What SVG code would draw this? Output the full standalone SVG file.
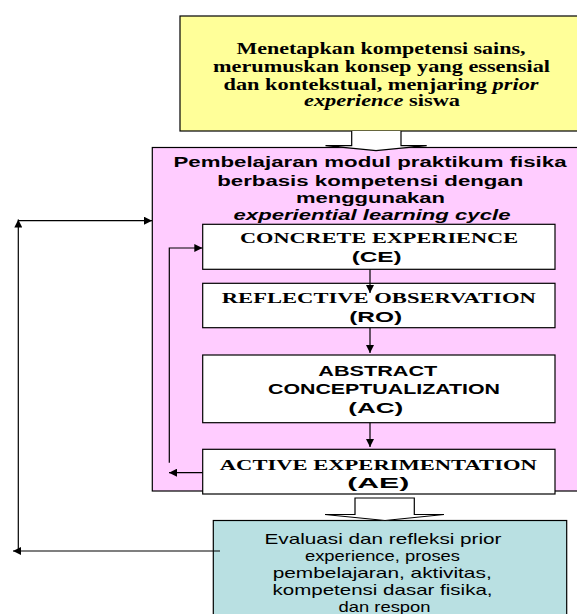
<svg xmlns="http://www.w3.org/2000/svg" width="577" height="614" viewBox="0 0 577 614">
<defs>
<marker id="ah" viewBox="0 0 10 10" refX="10" refY="5" markerUnits="userSpaceOnUse" markerWidth="9" markerHeight="8" orient="auto">
<path d="M0,0 L10,5 L0,10 z" fill="#000"/>
</marker>
</defs>
<style>
.box{stroke:#000;stroke-width:1.2}
.ln{fill:none;stroke:#000;stroke-width:1.2}
.blk{fill:#fff;stroke:#000;stroke-width:1.2;stroke-linejoin:miter}
.ser{font-family:"Liberation Serif","Times New Roman",serif;font-weight:bold;fill:#000}
.san{font-family:"Liberation Sans",Arial,sans-serif;fill:#000}
.b{font-weight:bold}
.i{font-style:italic}
</style>
<rect width="577" height="614" fill="#fff"/>

<g id="top">
<rect class="box" x="180" y="16" width="410" height="115" fill="#FFFF99" stroke="#333"/>
<g class="ser" font-size="16" text-anchor="middle">
<text x="381" y="54" textLength="289" lengthAdjust="spacingAndGlyphs">Menetapkan kompetensi sains,</text>
<text x="381.5" y="72" textLength="337" lengthAdjust="spacingAndGlyphs">merumuskan konsep yang essensial</text>
<text x="381" y="90" textLength="315" lengthAdjust="spacingAndGlyphs">dan kontekstual, menjaring <tspan class="i">prior</tspan></text>
<text x="382" y="106" textLength="156" lengthAdjust="spacingAndGlyphs"><tspan class="i">experience</tspan> siswa</text>
</g>
</g>

<g id="module">
<rect class="box" x="152.3" y="147.5" width="440" height="343.5" fill="#FFCCFF"/>
<g class="san b" font-size="14" text-anchor="middle">
<text x="370" y="167" textLength="393" lengthAdjust="spacingAndGlyphs">Pembelajaran modul praktikum fisika</text>
<text x="370.3" y="185.5" textLength="306" lengthAdjust="spacingAndGlyphs">berbasis kompetensi dengan</text>
<text x="370.5" y="203" textLength="149" lengthAdjust="spacingAndGlyphs">menggunakan</text>
<text class="i" x="372" y="220" textLength="277" lengthAdjust="spacingAndGlyphs">experiential learning cycle</text>
</g>
</g>

<g id="block-arrow-1">
<path class="blk" d="M351.7,131 V145.7 H325.5 L376,150.7 L426.7,145.7 H401 V131"/>
</g>

<g id="ce">
<rect class="box" x="202.7" y="224.3" width="352.3" height="45" fill="#fff"/>
<text class="ser" font-size="14" x="379" y="243.3" text-anchor="middle" textLength="278" lengthAdjust="spacingAndGlyphs">CONCRETE EXPERIENCE</text>
<text class="san b" font-size="14" x="376.7" y="262" text-anchor="middle" textLength="50" lengthAdjust="spacingAndGlyphs">(CE)</text>
</g>

<g id="ro">
<rect class="box" x="202.7" y="283.3" width="352.3" height="44.4" fill="#fff"/>
<text class="ser" font-size="14" x="378.8" y="302.7" text-anchor="middle" textLength="314" lengthAdjust="spacingAndGlyphs">REFLECTIVE OBSERVATION</text>
<text class="san b" font-size="14" x="375.7" y="322.3" text-anchor="middle" textLength="53" lengthAdjust="spacingAndGlyphs">(RO)</text>
</g>

<g id="ac">
<rect class="box" x="202.7" y="355" width="352.3" height="67.7" fill="#fff"/>
<g class="san b" font-size="14" text-anchor="middle">
<text x="377.8" y="376" textLength="119" lengthAdjust="spacingAndGlyphs">ABSTRACT</text>
<text x="384" y="393.7" textLength="232" lengthAdjust="spacingAndGlyphs">CONCEPTUALIZATION</text>
<text x="375.8" y="412.7" textLength="55" lengthAdjust="spacingAndGlyphs">(AC)</text>
</g>
</g>

<g id="ae">
<rect class="box" x="202.7" y="449.3" width="352.3" height="44.7" fill="#fff"/>
<text class="ser" font-size="14" x="378.3" y="470" text-anchor="middle" textLength="317" lengthAdjust="spacingAndGlyphs">ACTIVE EXPERIMENTATION</text>
<text class="san b" font-size="14" x="378.3" y="488.3" text-anchor="middle" textLength="62" lengthAdjust="spacingAndGlyphs">(AE)</text>
</g>

<g id="eval">
<rect class="box" x="213.3" y="520.5" width="353.4" height="110" fill="#B9E0E2" stroke="#333"/>
<g class="san" font-size="14.5" text-anchor="middle">
<text x="383" y="544" textLength="237" lengthAdjust="spacingAndGlyphs">Evaluasi dan refleksi prior</text>
<text x="382.5" y="561" textLength="155" lengthAdjust="spacingAndGlyphs">experience, proses</text>
<text x="382.2" y="578" textLength="219" lengthAdjust="spacingAndGlyphs">pembelajaran, aktivitas,</text>
<text x="382.5" y="595" textLength="220" lengthAdjust="spacingAndGlyphs">kompetensi dasar fisika,</text>
<text x="384.5" y="612" textLength="92" lengthAdjust="spacingAndGlyphs">dan respon</text>
</g>
</g>

<g id="block-arrow-2">
<path class="blk" d="M355,498 H414.3 V514.5 H444 L385,520.5 L325,514.5 H355 Z"/>
</g>

<g id="connectors">
<line class="ln" x1="370" y1="269.3" x2="370" y2="293" marker-end="url(#ah)"/>
<line class="ln" x1="370" y1="327.7" x2="370" y2="353" marker-end="url(#ah)"/>
<line class="ln" x1="370" y1="422.7" x2="370" y2="447" marker-end="url(#ah)"/>
<line class="ln" x1="202.7" y1="472.7" x2="169" y2="472.7" marker-end="url(#ah)"/>
<polyline class="ln" points="169.3,462.7 169.3,248 202.3,248" marker-end="url(#ah)"/>
<line class="ln" x1="18.3" y1="550" x2="18.3" y2="219.5" marker-end="url(#ah)"/>
<line class="ln" x1="18.3" y1="220.7" x2="152" y2="220.7" marker-end="url(#ah)"/>
<line class="ln" x1="220" y1="551" x2="13" y2="551" marker-end="url(#ah)"/>
</g>
</svg>
